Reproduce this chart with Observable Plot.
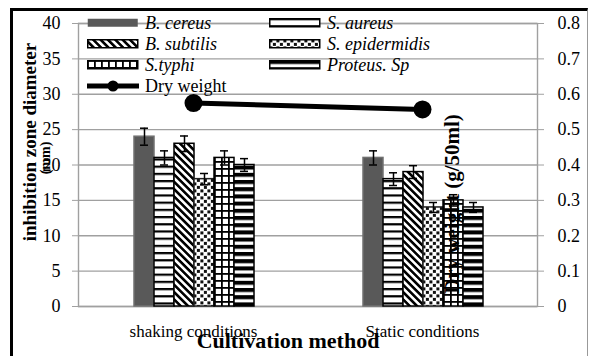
<!DOCTYPE html>
<html><head><meta charset="utf-8">
<script src="https://cdn.jsdelivr.net/npm/d3@7"></script>
<script src="https://cdn.jsdelivr.net/npm/@observablehq/plot@0.6"></script>
<style>
body{margin:0;background:#fff;font-family:'Liberation Serif','Times New Roman',serif;}
#wrap{position:relative;width:589px;height:356px;overflow:hidden;background:#fff;}
#wrap svg, #wrap svg text{font-family:'Liberation Serif','Times New Roman',serif !important;}
.layer{position:absolute;left:0;top:0;}
.frame{position:absolute;left:10px;top:8px;width:574px;height:420px;border-top:3px solid #000;border-left:3px solid #000;border-right:1px solid #999;}
.rot{position:absolute;transform:translate(-50%,-50%) rotate(-90deg);white-space:nowrap;font-weight:bold;line-height:1;font-family:'Liberation Serif','Times New Roman',serif;}
.txt{position:absolute;transform:translate(-50%,-50%);white-space:nowrap;font-weight:bold;line-height:1;font-family:'Liberation Serif','Times New Roman',serif;}
.leg{position:absolute;display:flex;align-items:center;font-size:18px;white-space:nowrap;transform:translateY(-50%);line-height:1;font-family:'Liberation Serif','Times New Roman',serif;}
.leg svg{margin-right:6px;}
</style></head><body>
<svg width="0" height="0" style="position:absolute">
<defs>
<pattern id="pAureus" patternUnits="userSpaceOnUse" width="8" height="7.2"><rect width="8" height="7.2" fill="#fff"/><rect y="0" width="8" height="2.2" fill="#000"/></pattern>
<pattern id="pSubtilis" patternUnits="userSpaceOnUse" width="6" height="5.2" patternTransform="rotate(45)"><rect width="6" height="5.2" fill="#fff"/><rect width="6" height="2.6" fill="#000"/></pattern>
<pattern id="pEpi" patternUnits="userSpaceOnUse" width="7" height="7"><rect width="7" height="7" fill="#fff"/><rect x="0.4" y="0.4" width="3" height="3" fill="#111"/><rect x="3.9" y="3.9" width="3" height="3" fill="#111"/></pattern>
<pattern id="pTyphi" patternUnits="userSpaceOnUse" width="7" height="7"><rect width="7" height="7" fill="#fff"/><rect width="1.8" height="7" fill="#000"/><rect width="7" height="1.8" fill="#000"/></pattern>
<pattern id="pProteus" patternUnits="userSpaceOnUse" width="8" height="7.2"><rect width="8" height="7.2" fill="#fff"/><rect width="8" height="4" fill="#000"/></pattern>
</defs></svg>
<div id="wrap"><div class="frame"></div></div>
<script>
// ---- data ----
const methods = ["shaking conditions", "Static conditions"];
const species = ["B. cereus", "S. aureus", "B. subtilis", "S. epidermidis", "S.typhi", "Proteus. Sp"];
const shakingZone = [24, 21, 23, 18, 21, 20];
const shakingErr  = [1.2, 1.0, 1.1, 0.8, 1.0, 0.9];
const staticZone  = [21, 18, 19, 14, 15, 14];
const staticErr   = [1.0, 0.9, 0.9, 0.7, 0.8, 0.7];
const dryWeight   = [0.575, 0.557];
const leftTicks = [0, 5, 10, 15, 20, 25, 30, 35, 40];
const rightTickLabels = ["0", "0.1", "0.2", "0.3", "0.4", "0.5", "0.6", "0.7", "0.8"];
const leftMax = 40, rightMax = 0.8;

// ---- styles ----
const fills = ["#595959", "url(#pAureus)", "url(#pSubtilis)", "url(#pEpi)", "url(#pTyphi)", "url(#pProteus)"];
const strokes = ["#707070", "#000", "#000", "#222", "#000", "#000"];
const FONT = "'Liberation Serif','Times New Roman',serif";
const W = 589, H = 356;
const M = {marginTop: 23, marginRight: 52, marginBottom: 50, marginLeft: 78};
const GRID = "#a0a0a0";

const rows = [];
species.forEach((s, i) => {
  rows.push({method: methods[0], species: s, zone: shakingZone[i], err: shakingErr[i], k: i});
  rows.push({method: methods[1], species: s, zone: staticZone[i], err: staticErr[i], k: i});
});
const dry = methods.map((m, i) => ({method: m, w: dryWeight[i]}));
const toLeft = v => v / rightMax * leftMax;

const wrap = document.getElementById("wrap");

const base = Plot.plot({
  width: W, height: H, ...M,
  style: {fontFamily: FONT, background: "transparent", color: "#000"},
  x: {type: "point", domain: methods, padding: 0.5, axis: null},
  y: {domain: [0, leftMax], axis: null},
  marks: [
    Plot.ruleY(leftTicks, {stroke: GRID, strokeWidth: 1.4}),
    Plot.frame({stroke: GRID, strokeWidth: 1.4}),
    Plot.axisY({ticks: leftTicks, tickSize: 6, tickPadding: 12, fontSize: 18, fontFamily: FONT, stroke: GRID, fill: "#000", label: null}),
    Plot.axisY({anchor: "right", ticks: leftTicks, tickFormat: d => rightTickLabels[leftTicks.indexOf(d)], tickSize: 6, tickPadding: 14, fontSize: 18, fontFamily: FONT, stroke: GRID, fill: "#000", label: null}),
    Plot.axisX({tickSize: 0, tickPadding: 18, fontSize: 17, fontFamily: FONT, fill: "#000", label: null}),
    Plot.line(dry, {x: "method", y: d => toLeft(d.w), stroke: "#000", strokeWidth: 5}),
    Plot.dot(dry, {x: "method", y: d => toLeft(d.w), r: 9, fill: "#000"})
  ]
});
base.classList.add("layer");
wrap.appendChild(base);

const bars = Plot.plot({
  width: W, height: H, ...M,
  style: {fontFamily: FONT, background: "transparent"},
  facet: {data: rows, x: "method"},
  fx: {domain: methods, paddingInner: 0.455, paddingOuter: 0.2275, axis: null, label: null},
  x: {domain: species, padding: 0, axis: null},
  y: {domain: [0, leftMax], axis: null},
  color: {type: "identity"},
  marks: [
    Plot.barY(rows, {x: "species", y: "zone", fill: d => fills[d.k], stroke: d => strokes[d.k], strokeWidth: 1.5}),
    Plot.ruleX(rows, {x: "species", y1: d => d.zone - d.err, y2: d => d.zone + d.err, stroke: "#000", strokeWidth: 1.5}),
    Plot.tickY(rows, {x: "species", y: d => d.zone - d.err, stroke: "#000", strokeWidth: 1.5, insetLeft: 6, insetRight: 6}),
    Plot.tickY(rows, {x: "species", y: d => d.zone + d.err, stroke: "#000", strokeWidth: 1.5, insetLeft: 6, insetRight: 6})
  ]
});
bars.classList.add("layer");
wrap.appendChild(bars);

// ---- legend ----
const legPos = [[87, 23], [269, 23], [87, 44], [269, 44], [87, 65], [269, 65]];
species.forEach((s, i) => {
  const d = document.createElement("div");
  d.className = "leg";
  d.style.left = legPos[i][0] + "px";
  d.style.top = legPos[i][1] + "px";
  d.innerHTML = `<svg width="52" height="10"><rect x="0.75" y="0.75" width="50" height="8" fill="${fills[i]}" stroke="${i === 0 ? "none" : "#000"}" stroke-width="1.5"/></svg><i>${s}</i>`;
  wrap.appendChild(d);
});
const dl = document.createElement("div");
dl.className = "leg";
dl.style.left = "87px"; dl.style.top = "86px";
dl.innerHTML = `<svg width="52" height="12"><line x1="0" x2="52" y1="6" y2="6" stroke="#000" stroke-width="5"/><circle cx="26" cy="6" r="5.5" fill="#000"/></svg><span>Dry weight</span>`;
wrap.appendChild(dl);

// ---- titles ----
function addText(cls, txt, x, y, size) {
  const d = document.createElement("div");
  d.className = cls; d.textContent = txt;
  d.style.left = x + "px"; d.style.top = y + "px"; d.style.fontSize = size + "px";
  wrap.appendChild(d);
}
addText("rot", "inhibition zone diameter", 29, 142, 19);
addText("rot", "(mm)", 46, 158, 14);
addText("rot", "Dry weight (g/50ml)", 452, 204, 21);
addText("txt", "Cultivation method", 288, 341, 22);
</script>
</body></html>
